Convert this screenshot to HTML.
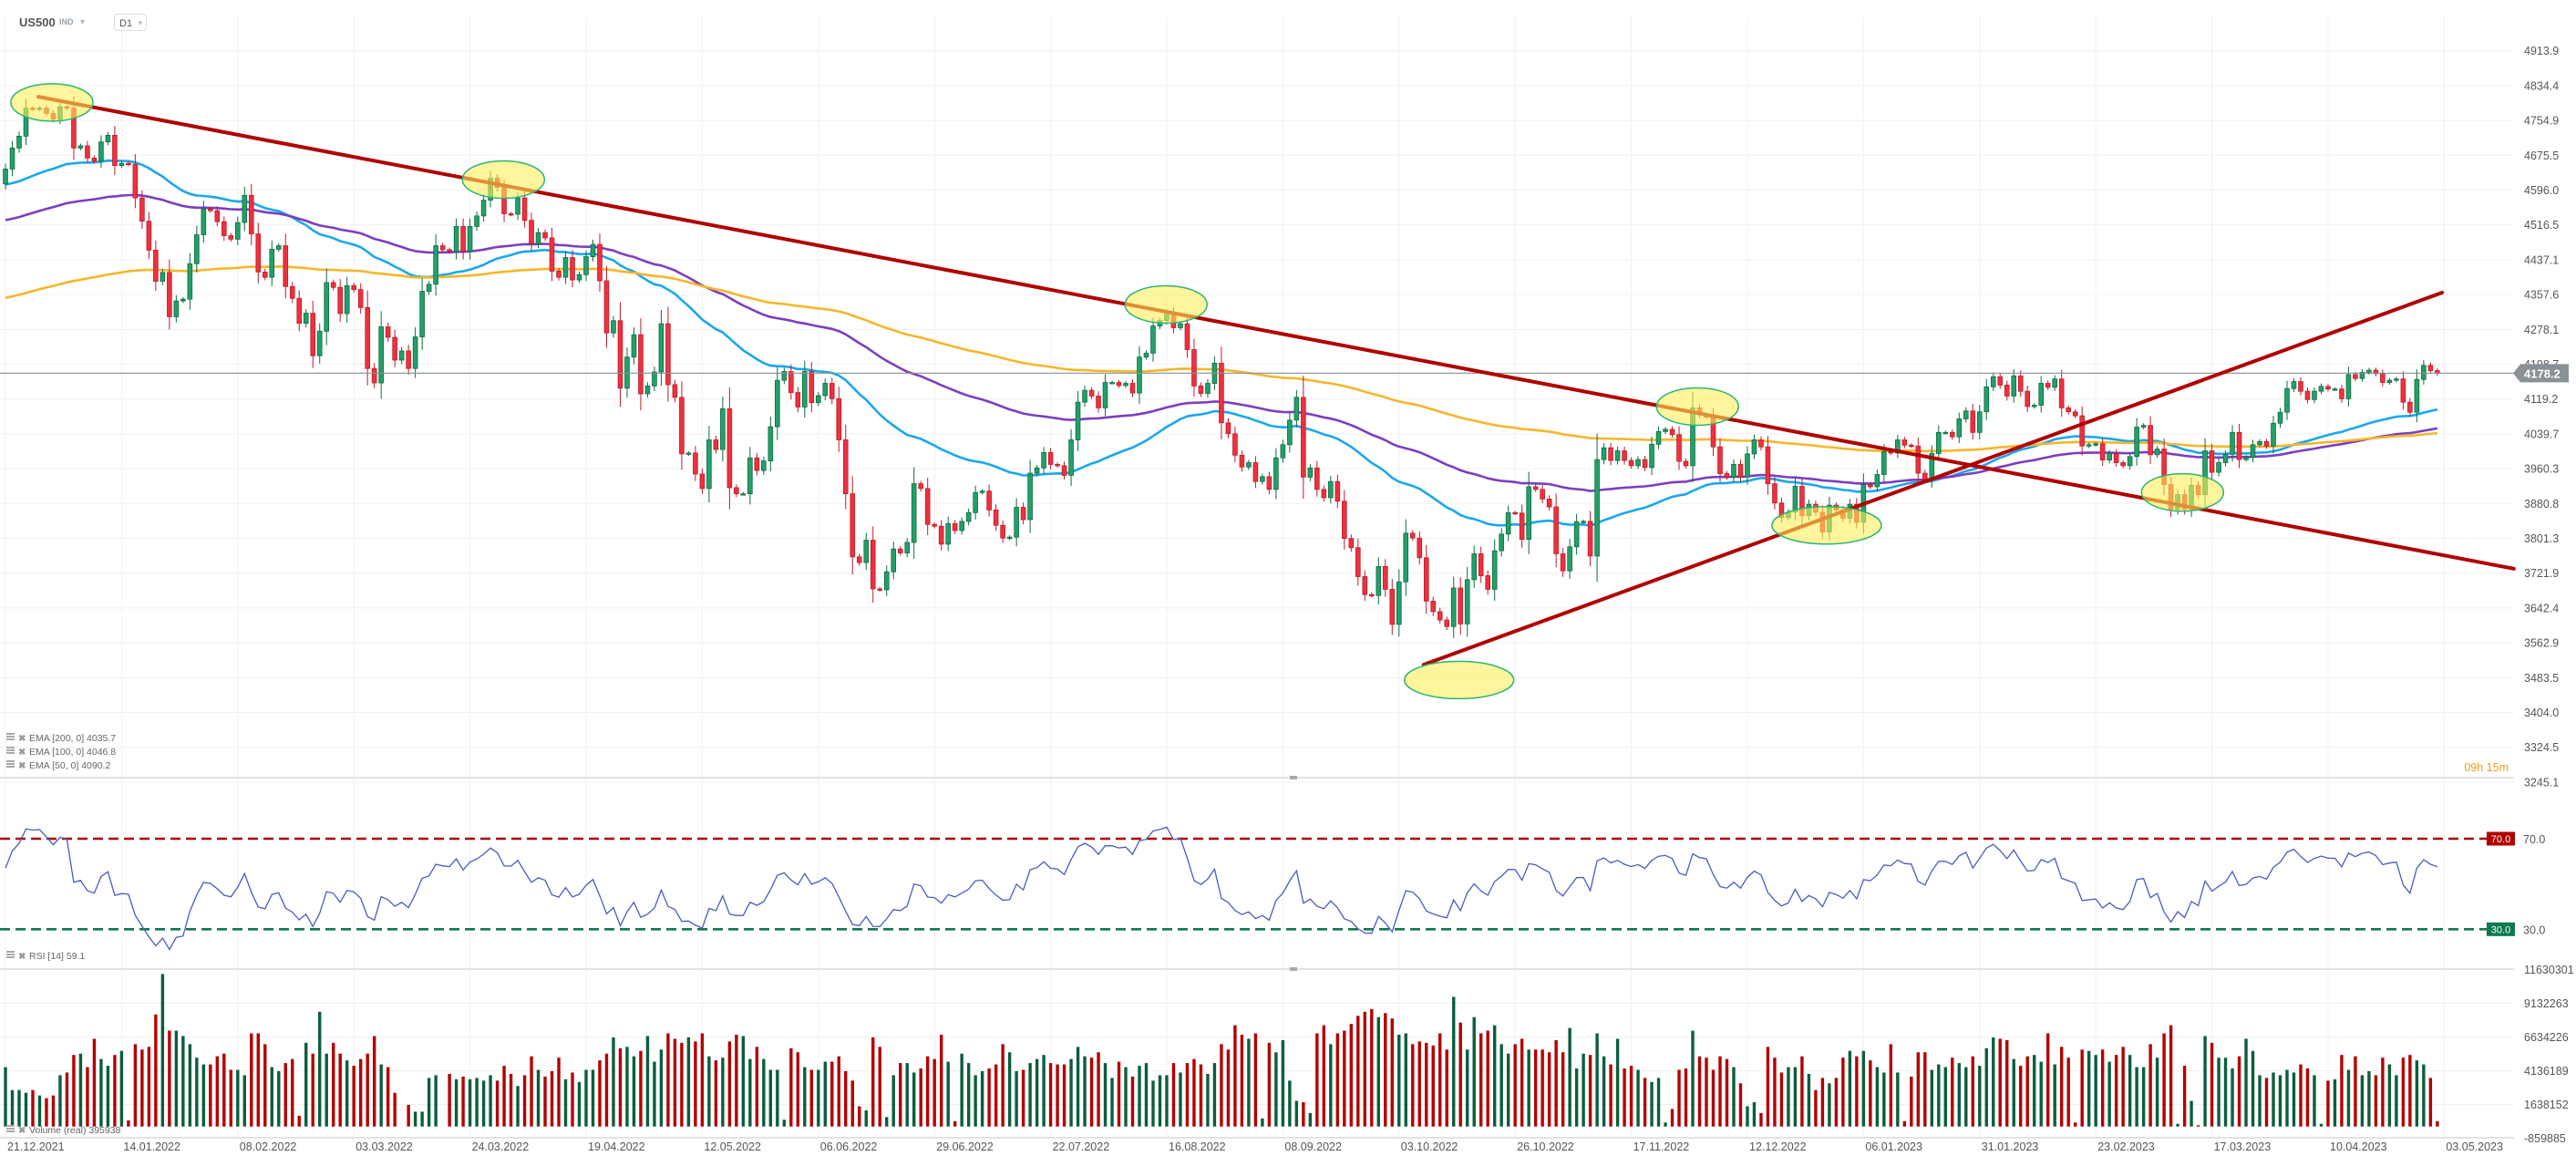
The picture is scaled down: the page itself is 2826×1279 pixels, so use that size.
<!DOCTYPE html>
<html><head><meta charset="utf-8"><title>US500 D1</title>
<style>
html,body{margin:0;padding:0;background:#fff;}
body{width:2826px;height:1274px;overflow:hidden;font-family:"Liberation Sans",sans-serif;}
svg text{font-family:"Liberation Sans",sans-serif;}
</style></head>
<body>
<svg id="chart" width="2826" height="1274" viewBox="0 0 2826 1274" xmlns="http://www.w3.org/2000/svg">
  <g id="grid"></g>
  <g id="header">
    <text x="21" y="29" font-size="13" font-weight="bold" fill="#555">US500</text>
    <text x="65" y="27" font-size="9" font-weight="bold" fill="#9aa4ad">IND</text>
    <text x="86" y="27" font-size="9" fill="#bbb">▼</text>
    <rect x="125.5" y="15.5" width="35" height="18" rx="3" fill="#fff" stroke="#ddd"/>
    <text x="131" y="29" font-size="11" fill="#555">D1</text>
    <text x="150" y="28" font-size="8" fill="#bbb">▼</text>
  </g>
  <g id="ema"></g>
  <g id="candles"></g>
  <g id="annot"></g>
  <g id="rsi"></g>
  <g id="vol"></g>
  <g id="axes"></g>
</svg>
<script>
// ---------- DATA ----------
const closes = [
4644,4692,4719,4783,4781,4783,4771,4758,4786,4783,4692,4697,4669,4662,4706,4721,4652,4657,4655,4578,
4525,4459,4388,4408,4307,4343,4347,4428,4494,4553,4549,4524,4492,4484,4522,4584,4496,4409,4397,4461,
4469,4376,4349,4292,4315,4218,4274,4385,4374,4314,4378,4369,4328,4189,4156,4284,4260,4208,4229,4189,
4261,4365,4381,4469,4460,4456,4513,4456,4513,4537,4573,4623,4602,
4542,4541,4578,4527,4474,4499,4487,4411,4397,4442,4391,4403,4444,4472,4389,4270,4298,4144,4215,4266,
4131,4149,4181,4291,4152,4123,3994,3996,3948,3915,4026,4004,4097,3917,3903,3903,3985,3956,3978,4056,
4162,4182,4134,4101,4182,4111,4127,4155,4120,4026,3903,3759,3746,3797,3686,3684,3725,3777,3768,3792,
3926,3915,3833,3829,3788,3835,3819,3840,3860,3906,3909,3866,3831,3802,
3804,3872,3844,3950,3962,3997,3970,3967,3945,4026,4112,4139,4126,4099,4157,4157,4150,4155,4133,4215,
4224,4286,4298,4316,4282,4291,4232,4149,4132,4155,4201,4065,4040,3991,3964,3974,3931,3942,3913,3985,
4015,4071,4123,3941,3962,3913,3894,3931,3886,3801,3780,3714,3673,3671,3737,3685,3605,3702,3813,3802,
3757,3658,3634,3615,3600,3688,3606,3707,3766,3716,3685,3773,3811,3860,
3859,3799,3919,3913,3891,3873,3766,3727,3782,3839,3840,3761,3981,4008,3979,4001,3979,3967,3981,3963,
4016,4045,4050,4038,3977,3967,4099,4083,4078,4010,3949,3941,3970,3941,3994,4026,4010,3926,3882,3849,
3861,3920,3853,3879,3861,3816,3877,3866,3847,3879,3838,3924,3919,3947,3999,3996,4026,4014,4012,3950,
3936,3995,4043,4043,4033,4074,4092,4043,4090,4147,4170,4151,4126,4172,4137,
4102,4105,4155,4146,4165,4099,4090,4081,4012,4015,4017,3980,3995,3974,3967,3988,4055,4059,3992,4005,
3924,3868,3901,3868,3922,3901,4001,3952,3974,3993,4043,3981,3986,4015,4022,4012,4064,4089,4143,4159,
4137,4118,4137,4148,4142,4142,4120,4175,4166,4180,4185,4177,4157,4162,4165,4112,4089,4164,4196,4184,4178.2
];
const firstOpen = 4610;
const volumes = [ // millions
4.4,2.7,2.7,2.5,2.7,2.3,2.1,2.3,3.8,4.0,5.3,5.4,4.4,6.5,5.0,4.5,5.3,5.6,0.45,6.1,
5.7,5.9,8.3,11.3,7.1,7.1,6.7,6.1,5.1,4.6,4.6,5.2,5.4,4.2,4.2,3.8,6.9,6.9,6.1,4.4,
4.1,4.7,5.0,0.8,6.2,5.4,8.5,5.4,6.2,5.4,4.9,4.5,5.0,5.4,6.7,4.6,4.4,2.5,0,1.6,
1.1,1.1,3.6,3.8,0,3.9,3.5,3.7,3.5,3.6,3.4,3.8,3.4,4.5,
3.9,3.0,3.8,5.2,4.2,3.7,4.1,5.1,3.5,4.0,3.3,4.2,4.2,4.9,5.4,6.6,5.8,5.9,5.2,5.6,
6.7,4.8,5.7,6.9,6.5,6.2,6.6,6.3,6.9,5.2,4.9,5.1,6.3,6.8,6.7,5.0,5.9,5.0,4.2,4.2,
0.5,5.8,5.5,4.4,4.2,4.2,4.8,4.8,5.2,4.1,3.4,1.5,1.2,6.6,5.9,0.7,3.8,4.7,4.7,4.0,
4.3,5.2,5.0,6.8,4.8,0.4,5.4,4.7,3.8,4.1,4.3,4.6,6.1,5.5,4.1,4.2,4.7,5.0,5.3,4.7,
4.6,4.6,5.0,5.9,5.2,5.1,5.5,4.7,3.6,4.8,4.4,3.7,4.5,4.7,3.4,3.8,3.8,4.7,4.0,4.7,
5.0,4.6,3.9,4.7,6.1,5.7,7.5,6.8,6.5,6.9,0.6,6.2,5.5,6.4,3.4,1.9,1.8,1.0,6.9,7.5,
6.1,6.9,7.1,7.6,8.2,8.5,8.7,8.1,8.4,8.0,6.8,6.9,6.1,6.3,6.2,6.0,6.9,5.7,9.6,7.7,
5.7,8.1,6.9,7.1,7.5,6.1,5.4,6.1,6.5,5.7,5.7,5.7,5.5,6.4,5.5,7.3,4.3,5.4,5.3,6.9,
5.2,4.6,6.5,4.3,4.5,4.2,3.6,3.3,3.6,0.3,1.3,4.2,4.3,7.1,5.2,5.1,4.2,5.2,5.0,4.4,
3.2,1.5,1.8,1.0,5.9,5.1,4.0,4.4,4.4,5.2,3.9,2.7,3.6,3.2,3.6,5.1,5.6,5.2,5.6,4.9,
4.4,4.0,6.1,4.0,0.4,3.7,5.5,5.5,4.2,4.6,4.4,5.1,4.7,4.4,5.2,4.5,5.8,6.6,6.5,6.4,
5.0,4.5,5.2,5.3,4.8,6.9,4.6,5.9,5.1,0.3,5.7,5.6,5.3,5.7,4.8,5.3,5.9,5.3,4.4,4.4,
6.1,5.1,6.9,7.5,0.2,4.5,1.9,0.1,6.7,6.2,5.1,
5.1,4.3,5.2,6.5,5.6,3.8,3.6,4.0,3.8,4.2,4.0,4.6,4.3,3.8,0.2,3.4,3.5,5.3,4.2,5.2,
3.8,4.1,3.8,5.1,4.6,3.8,5.1,5.3,4.9,4.6,3.6,0.4
];
const priceTicks = [4913.9,4834.4,4754.9,4675.5,4596.0,4516.5,4437.1,4357.6,4278.1,4198.7,4119.2,4039.7,3960.3,3880.8,3801.3,3721.9,3642.4,3562.9,3483.5,3404.0,3324.5,3245.1];
const volTicks = [11630301,9132263,6634226,4136189,1638152,-859885];
const dateLabels = ["21.12.2021","14.01.2022","08.02.2022","03.03.2022","24.03.2022","19.04.2022","12.05.2022","06.06.2022","29.06.2022","22.07.2022","16.08.2022","08.09.2022","03.10.2022","26.10.2022","17.11.2022","12.12.2022","06.01.2023","31.01.2023","23.02.2023","17.03.2023","10.04.2023","03.05.2023"];
const emaPeriods = [50,100,200];
const emaSeeds = [4607,4525,4347];
const emaLegendValues = ["4090.2","4046.8","4035.7"];
// annotations: [barIndex, price]
const highlightCenters = [[6.8,4796],[72.9,4620],[169.9,4335],[212.8,3478],[247.7,4102],[266.6,3831],[318.7,3906]];
const highlightWide = [false,false,false,true,false,true,false];
const trendLineA = [[4.8,4809],[367.2,3732]];
const trendLineB = [[207.6,3513],[356.7,4362]];
const lastPrice = 4178.2;
const rsiLevels = [70,30];

// ---------- AXES ----------
const NS="http://www.w3.org/2000/svg";
const PLOT_R=2758;
const xOf = i => 6 + 7.494*i;
const yP = p => 208.5 + (4596 - p)*0.4807;
const yR = r => 920 + (70 - r)*2.4825;
const yV = v => 1235.7 - v*14.81;
function mk(tag, attrs, parent){const e=document.createElementNS(NS,tag);for(const k in attrs)e.setAttribute(k,attrs[k]);parent.appendChild(e);return e;}
const G=id=>document.getElementById(id);

// grid
const grid=G('grid');
for(let k=0;k<22;k++){const x=6+127.4*k;
  const l=mk('line',{x1:x,y1:18,x2:x,y2:1248,stroke:'#f0f0f0','stroke-width':1},grid);
  
  }
priceTicks.forEach(p=>{const l=mk('line',{x1:0,y1:yP(p),x2:PLOT_R,y2:yP(p),stroke:'#f0f0f0'},grid);
  
  });
volTicks.forEach(v=>{const y=yV(v/1e6);const l=mk('line',{x1:0,y1:y,x2:PLOT_R,y2:y,stroke:'#f0f0f0'},grid);
  
  });
[853,1063,1248].forEach(y=>{const l=mk('line',{x1:0,y1:y,x2:PLOT_R,y2:y,stroke:'#dcdcdc','stroke-width':1.5},grid);
  
  });
[853,1063].forEach(y=>{const r=mk('rect',{x:1415,y:y-2,width:8,height:4,fill:'#aaa'},grid);
  
  });

// ---------- EMA ----------
const emaColors=['#1aa7ec','#7b3fbf','#f6b62b'];
const emaG=G('ema');
emaPeriods.forEach((per,k)=>{
  let e=emaSeeds[k];const a=2/(per+1);const pts=[];
  closes.forEach((c,i)=>{e=e+a*(c-e);pts.push(xOf(i).toFixed(1)+','+yP(e).toFixed(1));});
  const pl=mk('polyline',{points:pts.join(' '),fill:'none',stroke:emaColors[k],'stroke-width':2.6,'stroke-linejoin':'round'},emaG);
  
  
});

// ---------- CANDLES ----------
const cg=G('candles');
const opens=closes.map((c,i)=>i===0?firstOpen:closes[i-1]);
closes.forEach((c,i)=>{
  const o=opens[i];const up=c>=o;const x=xOf(i);
  const body=Math.abs(c-o);const hi=Math.max(o,c)+4+body*0.25;const lo=Math.min(o,c)-4-body*0.25;
  const col=up?'#22a06b':'#f0303e';const bd=up?'#0e6b3f':'#b81e2a';
  const w=mk('line',{x1:x,y1:yP(hi),x2:x,y2:yP(lo),stroke:bd,'stroke-width':1},cg);
  
  
  const yt=yP(Math.max(o,c));const h=Math.max(1.5,yP(Math.min(o,c))-yt);
  const r=mk('rect',{x:x-2.4,y:yt,width:4.8,height:h,fill:col,stroke:bd,'stroke-width':0.8},cg);
  
  
});
const lp=mk('line',{x1:0,y1:yP(lastPrice),x2:PLOT_R,y2:yP(lastPrice),stroke:'#8a8f92','stroke-width':1.2},cg);



// ---------- ANNOTATIONS ----------
const an=G('annot');
function tline(pts,name){const l=mk('line',{x1:xOf(pts[0][0]),y1:yP(pts[0][1]),x2:xOf(pts[1][0]),y2:yP(pts[1][1]),stroke:'#b00000','stroke-width':4,'stroke-linecap':'round'},an);
  
  }
tline(trendLineA,'descending-trendline');
tline(trendLineB,'ascending-trendline');
highlightCenters.forEach((c,k)=>{
  const e=mk('ellipse',{cx:xOf(c[0]),cy:yP(c[1]),rx:highlightWide[k]?60:45,ry:20.5,fill:'rgba(255,238,90,0.6)',stroke:'#2bb673','stroke-width':1.5},an);
  
  
});

// ---------- RSI ----------
const rg=G('rsi');
const rv=[];let ag=8,al=8;
closes.forEach((c,i)=>{const d=c-opens[i];ag=(ag*13+Math.max(d,0))/14;al=(al*13+Math.max(-d,0))/14;rv.push(100-100/(1+ag/al));});
[[70,'#b00000'],[30,'#0b7a4e']].forEach(([v,col])=>{
  const l=mk('line',{x1:0,y1:yR(v),x2:2728,y2:yR(v),stroke:col,'stroke-width':2.6,'stroke-dasharray':'11 6'},rg);
  
  
  const b=mk('rect',{x:2728,y:yR(v)-7.5,width:31,height:15,fill:col},rg);
  
  
  const t=mk('text',{x:2743.5,y:yR(v)+4,'font-size':11,fill:'#fff','text-anchor':'middle'},rg);t.textContent=v.toFixed(1);
  
  
  const t2=mk('text',{x:2768,y:yR(v)+5,'font-size':12.5,fill:'#555'},rg);t2.textContent=v.toFixed(1);
  
  
});
const rp=mk('polyline',{points:rv.map((r,i)=>xOf(i).toFixed(1)+','+yR(r).toFixed(1)).join(' '),fill:'none',stroke:'#4a5bc0','stroke-width':1.3},rg);



// ---------- VOLUME ----------
const vg=G('vol');
volumes.forEach((v,i)=>{if(v<=0)return;const up=closes[i]>=opens[i];
  const r=mk('rect',{x:xOf(i)-1.7,y:yV(v),width:3.4,height:yV(0)-yV(v),fill:up?'#0b5e3d':'#b30000'},vg);
  
  });

// ---------- AXIS LABELS ----------
const ax=G('axes');
priceTicks.forEach(p=>{const t=mk('text',{x:2769,y:yP(p)+4.5,'font-size':12.5,fill:'#555'},ax);t.textContent=p.toFixed(1);
  
  });
volTicks.forEach(v=>{const t=mk('text',{x:2769,y:yV(v/1e6)+4.5,'font-size':12.5,fill:'#555'},ax);t.textContent=String(v);
  
  });
dateLabels.forEach((d,k)=>{const t=mk('text',{x:8+127.4*k,y:1262,'font-size':12.5,fill:'#555'},ax);t.textContent=d;
  
  });
const ly=yP(lastPrice);
const tag=mk('polygon',{points:`2757,${ly} 2765,${ly-10} 2818,${ly-10} 2818,${ly+10} 2765,${ly+10}`,fill:'#8a9194'},ax);


const tt=mk('text',{x:2769,y:ly+5,'font-size':13,'font-weight':'bold',fill:'#fff'},ax);tt.textContent=lastPrice.toFixed(1);


const cd=mk('text',{x:2752,y:846,'font-size':12.5,fill:'#f39c12','text-anchor':'end'},ax);cd.textContent='09h 15m';



function legend(y,label,name){
  const g=mk('g',{},ax);
  
  
  mk('rect',{x:7,y:y-8,width:9,height:2,fill:'#aaa'},g);
  mk('rect',{x:7,y:y-5,width:9,height:2,fill:'#aaa'},g);
  mk('rect',{x:7,y:y-2,width:9,height:2,fill:'#aaa'},g);
  const x=mk('text',{x:20,y:y+1,'font-size':10,fill:'#999','font-weight':'bold'},g);x.textContent='✖';
  const t=mk('text',{x:32,y:y+1,'font-size':10.5,fill:'#666'},g);t.textContent=label;
}
legend(812,'EMA  [200,  0]  '+emaLegendValues[2],'ema-200-legend');
legend(827,'EMA  [100,  0]  '+emaLegendValues[1],'ema-100-legend');
legend(842,'EMA  [50,  0]  '+emaLegendValues[0],'ema-50-legend');
legend(1051,'RSI  [14]  59.1','rsi-legend');
legend(1242,'Volume  (real)  395938','volume-legend');
</script>
</body></html>
